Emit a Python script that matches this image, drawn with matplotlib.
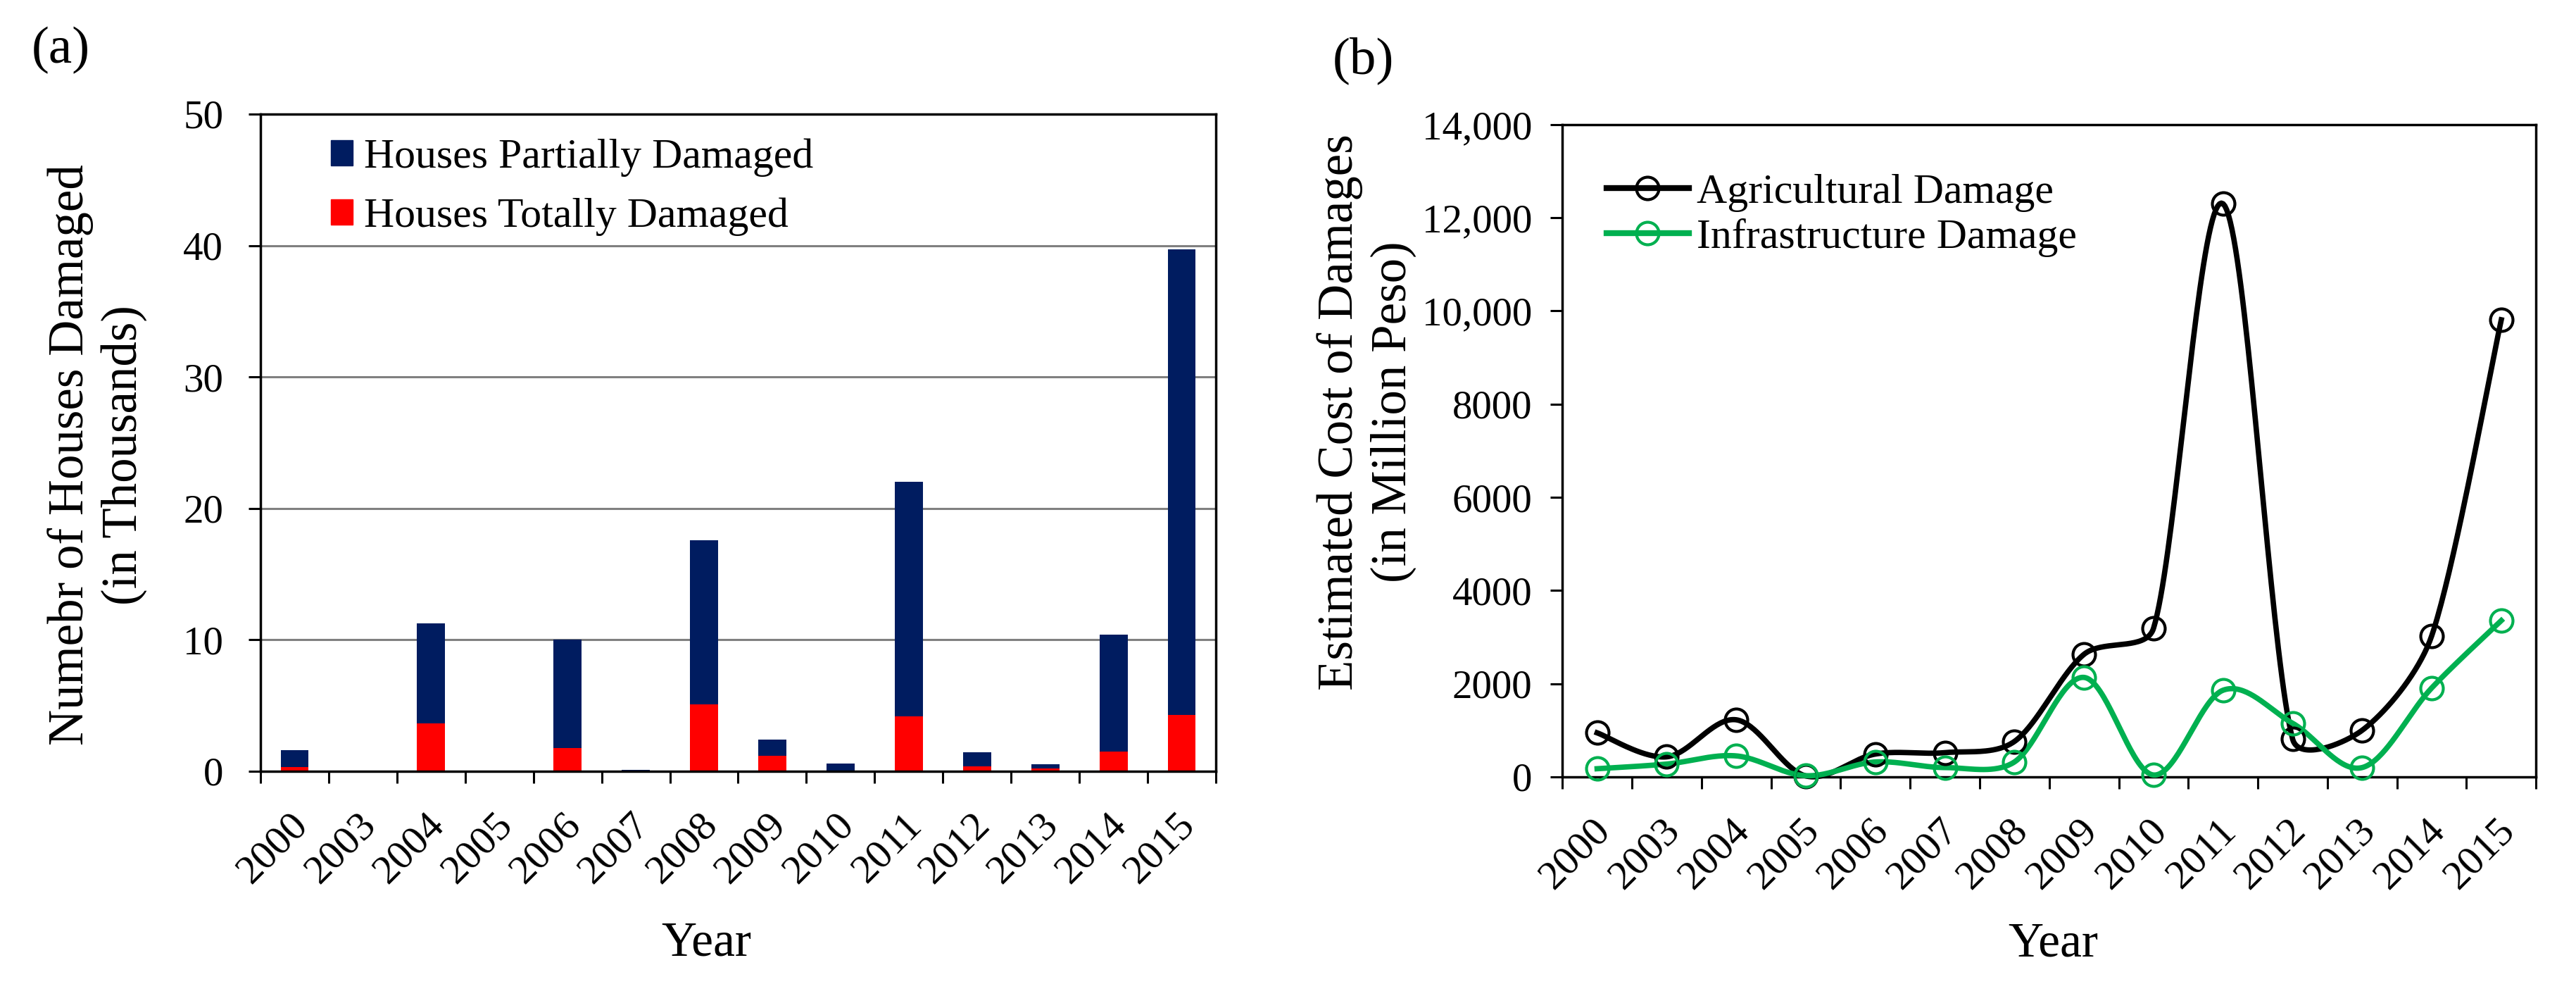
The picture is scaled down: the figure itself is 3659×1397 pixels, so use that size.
import numpy as np
import matplotlib
matplotlib.use("Agg")
import matplotlib.pyplot as plt
from matplotlib.patches import Patch
from matplotlib.lines import Line2D
from matplotlib.transforms import ScaledTranslation

plt.rcParams['font.family'] = ['Liberation Serif', 'DejaVu Serif']

# data
years = ['2000', '2003', '2004', '2005', '2006', '2007', '2008',
         '2009', '2010', '2011', '2012', '2013', '2014', '2015']
# houses damaged, thousands
totally = [0.3, 0, 3.65, 0, 1.75, 0, 5.1, 1.2, 0, 4.2, 0.35, 0.2, 1.5, 4.3]
houses_total = [1.6, 0, 11.25, 0, 10.0, 0.08, 17.6, 2.4, 0.6, 22.0, 1.45, 0.55, 10.4, 39.7]
partially = [t - r for t, r in zip(houses_total, totally)]
# estimated cost, million peso
agri = [945, 430, 1225, 20, 490, 520, 760, 2630, 3190, 12300, 810, 1000, 3030, 9810]
infra = [175, 275, 450, 25, 320, 200, 320, 2135, 40, 1860, 1150, 200, 1910, 3355]

cost_ticks = [0, 2000, 4000, 6000, 8000, 10000, 12000, 14000]
cost_labels = ['0', '2000', '4000', '6000', '8000', '10,000', '12,000', '14,000']

NAVY = '#001C60'
RED = '#FF0000'
GREEN = '#00B050'


def smooth(ax, y, n=40, f=1 / 3):
    # excel-like smoothed line: catmull-rom tangents in screen space,
    # control offset capped by the length of the segment it belongs to
    x = np.arange(len(y), dtype=float)
    p = ax.transData.transform(np.column_stack([x, np.asarray(y, dtype=float)]))

    def ctrl(a, b, seg_len):
        v = (b - a) / 6
        d = np.hypot(*v)
        cap = f * seg_len
        return v * (cap / d) if d > cap else v

    out = []
    for i in range(len(p) - 1):
        p0 = p[i - 1] if i > 0 else p[i]
        p1, p2 = p[i], p[i + 1]
        p3 = p[i + 2] if i + 2 < len(p) else p[i + 1]
        L = np.hypot(*(p2 - p1))
        c1 = p1 + ctrl(p0, p2, L)
        c2 = p2 - ctrl(p1, p3, L)
        t = np.linspace(0, 1, n)[:, None]
        seg = ((1 - t) ** 3) * p1 + 3 * ((1 - t) ** 2) * t * c1 + 3 * (1 - t) * t ** 2 * c2 + t ** 3 * p2
        out.append(seg if i == 0 else seg[1:])
    s = ax.transData.inverted().transform(np.vstack(out))
    return s[:, 0], s[:, 1]


def style_axes(ax, ypad):
    for sp in ax.spines.values():
        sp.set_linewidth(2.5)
    ax.set_xlim(-0.5, len(years) - 0.5)
    ax.set_xticks(np.arange(-0.5, len(years)), labels=[])
    ax.set_xticks(np.arange(len(years)), labels=years, minor=True)
    ax.tick_params(axis='both', which='major', direction='out', length=12, width=2.2)
    ax.tick_params(axis='x', which='minor', length=0, labelsize=42, pad=36)
    ax.tick_params(axis='y', labelsize=41, pad=ypad)
    for lab in ax.get_xticklabels(minor=True):
        lab.set_rotation(45)
        lab.set_ha('right')
        lab.set_va('top')
        lab.set_rotation_mode('anchor')
        lab.set_transform(lab.get_transform() + ScaledTranslation(-0.08, 0, fig.dpi_scale_trans))


fig = plt.figure(figsize=(36.59, 13.97), dpi=100)

# (a) stacked bars
ax1 = fig.add_axes([0.1011, 0.2162, 0.3709, 0.6679])
xs = np.arange(len(years))
ax1.bar(xs, totally, width=0.41, color=RED, zorder=2)
ax1.bar(xs, partially, width=0.41, bottom=totally, color=NAVY, zorder=2)
ax1.set_ylim(0, 50)
ax1.set_yticks([0, 10, 20, 30, 40, 50])
for v in [10, 20, 30, 40]:
    ax1.axhline(v, color='#808080', lw=2.2, zorder=1)
style_axes(ax1, 26)
ax1.legend(handles=[Patch(color=NAVY, label='Houses Partially Damaged'),
                    Patch(color=RED, label='Houses Totally Damaged')],
           loc='upper left', bbox_to_anchor=(0.0737, 0.963), frameon=False,
           fontsize=43, handlelength=0.52, handleheight=0.54, handletextpad=0.26,
           labelspacing=0.5, borderpad=0, borderaxespad=0)

# (b) smoothed lines
ax2 = fig.add_axes([0.6065, 0.2105, 0.3780, 0.6629])
ax2.set_xlim(-0.5, len(years) - 0.5)
ax2.set_ylim(0, 14000)
for vals, col in [(agri, 'black'), (infra, GREEN)]:
    sx, sy = smooth(ax2, vals)
    ax2.plot(sx, sy, color=col, lw=5.5, clip_on=False, zorder=3)
    ax2.plot(xs, vals, 'o', ms=23, mfc='none', mec=col, mew=3, clip_on=False, zorder=4)
ax2.set_yticks(cost_ticks, labels=cost_labels)
style_axes(ax2, 19)
ax2.legend(handles=[Line2D([], [], color='black', lw=6, marker='o', ms=23, mfc='none', mew=3,
                           label='Agricultural Damage'),
                    Line2D([], [], color=GREEN, lw=6, marker='o', ms=23, mfc='none', mew=3,
                           label='Infrastructure Damage')],
           loc='upper left', bbox_to_anchor=(0.0456, 0.925), frameon=False,
           fontsize=43, handlelength=1.95, handletextpad=0.19, numpoints=1,
           labelspacing=0.15, borderpad=0, borderaxespad=0)

# labels
fig.text(0.0378, 0.5376, 'Numebr of Houses Damaged\n(in Thousands)', rotation=90,
         ha='center', va='center', fontsize=51, multialignment='center')
fig.text(0.5305, 0.5812, 'Estimated Cost of Damages\n(in Million Peso)', rotation=90,
         ha='center', va='center', fontsize=51, multialignment='center')
fig.text(0.2741, 0.0293, 'Year', ha='center', va='baseline', fontsize=50)
fig.text(0.797, 0.0285, 'Year', ha='center', va='baseline', fontsize=50)
fig.text(0.0235, 0.9492, '(a)', ha='center', va='center', fontsize=54)
fig.text(0.5291, 0.9385, '(b)', ha='center', va='center', fontsize=54)

fig.savefig('out.png', dpi=100, facecolor='white')
